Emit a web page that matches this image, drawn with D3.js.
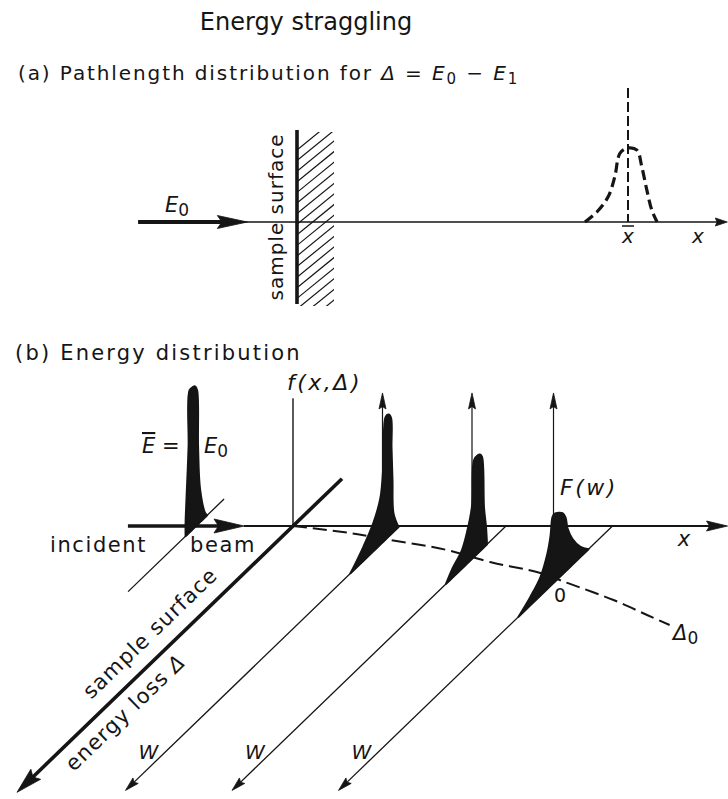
<!DOCTYPE html>
<html><head><meta charset="utf-8">
<script src="https://cdn.jsdelivr.net/npm/d3@7"></script>
<style>
body{margin:0;background:#fff}
svg{display:block}
text{font-family:"DejaVu Sans",sans-serif;fill:#151515}
</style>
</head><body>
<svg id="c" width="728" height="799"></svg>
<script>
// ================= DATA =================
const titleText = "Energy straggling";
const panelALabel = "(a) Pathlength distribution for ";
const panelBLabel = "(b) Energy distribution";

// Panel (a): pathlength distribution, x in units of mean pathlength x̄
const pathX       = [0.870, 0.906, 0.940, 0.960, 0.976, 1.000, 1.027, 1.042, 1.057, 1.072, 1.088];
const pathDensity = [0,     0.135, 0.34,  0.61,  0.93,  1.00,  0.97,  0.74,  0.43,  0.16,  0];

// Panel (b): energy distributions F(w) at depths x (units of peak spacing)
const peakX = [-0.91, 1, 2, 3];
const peak0W = [-0.11, -0.09, -0.04, -0.02, -0.01, 0.01, 0.03, 0.065, 0.075, 0.095, 0.105, 0.105];
const peak0F = [0,     0.03,  0.23,  0.54,  0.95,  0.99, 1.00, 1.00,  0.61,  0.27,  0.09,  0];
const peak1W = [0.01, 0.06, 0.07, 0.08, 0.085, 0.11, 0.14, 0.16, 0.19, 0.26, 0.36, 0.49];
const peak1F = [0,    0.13, 0.37, 0.61, 0.82,  0.86, 0.86, 0.55, 0.33, 0.20, 0.10, 0];
const peak2W = [0.19, 0.20, 0.22, 0.24, 0.26, 0.28, 0.32, 0.34, 0.39, 0.44, 0.54, 0.60];
const peak2F = [0,    0.13, 0.28, 0.65, 0.68, 0.69, 0.68, 0.37, 0.22, 0.13, 0.06, 0];
const peak3W = [0.24, 0.32, 0.40, 0.45, 0.47, 0.50, 0.54, 0.58, 0.60, 0.62, 0.65, 0.72, 0.82, 0.94];
const peak3F = [0,    0.07, 0.18, 0.29, 0.38, 0.43, 0.46, 0.48, 0.47, 0.35, 0.25, 0.13, 0.06, 0];

// F(w) axes: located at the mean energy loss for each depth
const arrowX = [1, 2, 3];
const arrowW = [0.17, 0.34, 0.59];
const arrowTopF = 0.937;
const fAxisTopF = 0.90;

// mean energy loss Δ0(x)
const deltaX = [0, 0.60, 0.99, 1.68, 2.20, 2.78, 3.13, 3.73, 4.19, 4.50];
const deltaW = [0, 0.0725, 0.135, 0.249, 0.373, 0.487, 0.59, 0.767, 0.922, 1.026];

const wLabels = ["W", "W", "W"];

// ================= DRAWING =================
const svg = d3.select("#c");
const ink = "#151515";

function arrowHead(g, x1, y1, x2, y2, len, half) {
  const a = Math.atan2(y2 - y1, x2 - x1);
  const bx = x2 - len * Math.cos(a), by = y2 - len * Math.sin(a);
  const px = -Math.sin(a) * half, py = Math.cos(a) * half;
  g.append("path")
    .attr("d", d3.line()([[x2, y2], [bx + px, by + py], [bx + len * 0.15 * Math.cos(a), by + len * 0.15 * Math.sin(a)], [bx - px, by - py]]) + "Z")
    .attr("fill", ink).attr("stroke", ink).attr("stroke-width", 0.8).attr("stroke-linejoin", "round");
  return [bx + len * 0.3 * Math.cos(a), by + len * 0.3 * Math.sin(a)];
}
function arrow(g, x1, y1, x2, y2, sw, len, half) {
  const b = arrowHead(g, x1, y1, x2, y2, len, half);
  g.append("line").attr("x1", x1).attr("y1", y1).attr("x2", b[0]).attr("y2", b[1])
    .attr("stroke", ink).attr("stroke-width", sw);
}
function line(g, x1, y1, x2, y2, sw) {
  return g.append("line").attr("x1", x1).attr("y1", y1).attr("x2", x2).attr("y2", y2)
    .attr("stroke", ink).attr("stroke-width", sw);
}

// ---- titles ----
svg.append("text").attr("x", 306).attr("y", 30).attr("text-anchor", "middle")
  .attr("font-size", 24).text(titleText);

const la = svg.append("text").attr("x", 18).attr("y", 80).attr("font-size", 20).attr("letter-spacing", 1.9);
la.append("tspan").text(panelALabel);
la.append("tspan").attr("font-style", "italic").text("Δ");
la.append("tspan").text(" = ");
la.append("tspan").attr("font-style", "italic").text("E");
la.append("tspan").attr("font-size", 15).attr("dy", 4).text("0");
la.append("tspan").attr("dy", -4).text(" − ");
la.append("tspan").attr("font-style", "italic").text("E");
la.append("tspan").attr("font-size", 15).attr("dy", 4).text("1");

// ================= PANEL (a) =================
const gA = svg.append("g");
const xA = d3.scaleLinear().domain([0, 1]).range([297, 628]);
const yA = d3.scaleLinear().domain([0, 1]).range([222, 148]);
const yA0 = yA(0);

// hatching behind the surface
gA.append("clipPath").attr("id", "hclip").append("rect")
  .attr("x", xA(0)).attr("y", 132).attr("width", 37).attr("height", 174);
const hatch = gA.append("g").attr("clip-path", "url(#hclip)");
for (let y = 150; y < 345; y += 10.6) {
  line(hatch, xA(0), y, xA(0) + 38, y - 31, 1.2);
}
// axis
arrow(gA, xA(-0.48), yA0, xA(1.3), yA0, 1.6, 12, 4);
// thick incident beam
arrow(gA, xA(-0.48), yA0, xA(-0.15), yA0, 4.2, 30, 6.5);
// sample surface
line(gA, xA(0), 130, xA(0), 304, 3.6);

// mean pathlength dashed vertical
line(gA, xA(1), 88, xA(1), yA0, 2).attr("stroke-dasharray", "10,4");
// distribution (dashed)
gA.append("path")
  .datum(pathX.map((x, i) => [x, pathDensity[i]]))
  .attr("d", d3.line().x(d => xA(d[0])).y(d => yA(d[1])).curve(d3.curveCatmullRom.alpha(0.5)))
  .attr("fill", "none").attr("stroke", ink).attr("stroke-width", 3.2)
  .attr("stroke-dasharray", "10,5");

// labels (a)
const e0 = gA.append("text").attr("x", 165).attr("y", 212).attr("font-size", 21);
e0.append("tspan").attr("font-style", "italic").text("E");
e0.append("tspan").attr("font-size", 17).attr("dy", 4).text("0");

gA.append("text").attr("transform", `translate(${xA(0) - 14},217) rotate(-90)`)
  .attr("text-anchor", "middle").attr("font-size", 20).attr("letter-spacing", 1)
  .text("sample  surface");

gA.append("text").attr("x", xA(1)).attr("y", 243).attr("text-anchor", "middle")
  .attr("font-size", 20).attr("font-style", "italic").text("x");
line(gA, xA(1) - 6, 226, xA(1) + 6, 226, 1.5);
gA.append("text").attr("x", 698).attr("y", 243).attr("text-anchor", "middle")
  .attr("font-size", 20).attr("font-style", "italic").text("x");

// ================= PANEL (b) =================
svg.append("text").attr("x", 15).attr("y", 360).attr("font-size", 21).attr("letter-spacing", 2.2).text(panelBLabel);

const gB = svg.append("g");
const xB = d3.scaleLinear().domain([0, 1]).range([293, 399.5]);
const wS = d3.scaleLinear().domain([0, 1]).range([0, 100]);
const fS = d3.scaleLinear().domain([0, 1]).range([0, 142]);
const yB0 = 526, slope = 0.965;
const proj = (x, w, f) => [xB(x) - wS(w), yB0 + wS(w) * slope - fS(f)];

// axis
arrow(gB, xB(-0.46), yB0, xB(4.08), yB0, 1.8, 21, 5);
// incident beam thick arrow
arrow(gB, xB(-1.55), yB0, xB(-0.46), yB0, 3.6, 30, 7);

// f(x,Δ) axis at surface
{
  const a = proj(0, 0, 0), b = proj(0, 0, fAxisTopF);
  line(gB, a[0], a[1], b[0], b[1], 1.4);
}

// dashed mean energy-loss curve
gB.append("path")
  .datum(deltaX.map((x, i) => proj(x, deltaW[i], 0)))
  .attr("d", d3.line().curve(d3.curveCatmullRom.alpha(0.5)))
  .attr("fill", "none").attr("stroke", ink).attr("stroke-width", 2)
  .attr("stroke-dasharray", "14,6");

// W axes (energy loss at each depth)
{
  const a = proj(peakX[0], -0.28, 0), b = proj(peakX[0], 0.68, 0);
  line(gB, a[0], a[1], b[0], b[1], 1.3);
}
peakX.slice(1).forEach((x, i) => {
  const a = proj(x, 0, 0), b = proj(x, 2.74, 0);
  arrow(gB, a[0], a[1], b[0], b[1], 1.3, 14, 3.8);
  gB.append("text").attr("x", b[0] + 23).attr("y", b[1] - 31).attr("text-anchor", "middle")
    .attr("font-size", 20).attr("font-style", "italic").text(wLabels[i]);
});

// sample surface thick diagonal
{
  const a = proj(0, -0.49, 0), b = proj(0, 2.76, 0);
  arrow(gB, a[0], a[1], b[0], b[1], 3.6, 26, 7);
}

// F(w) arrows
arrowX.forEach((x, i) => {
  const a = proj(x, arrowW[i], 0);
  const top = proj(x, 0, arrowTopF)[1];
  arrow(gB, a[0], a[1], a[0], top, 1.2, 16, 3.5);
});

// peaks
const peakData = [[peak0W, peak0F], [peak1W, peak1F], [peak2W, peak2F], [peak3W, peak3F]];
const area = d3.area()
  .x0(d => proj(d.x, d.w, 0)[0]).y0(d => proj(d.x, d.w, 0)[1])
  .x1(d => proj(d.x, d.w, d.f)[0]).y1(d => proj(d.x, d.w, d.f)[1])
  .curve(d3.curveCatmullRom.alpha(0.5));
peakData.forEach(([ws, fs], k) => {
  gB.append("path")
    .datum(ws.map((w, i) => ({x: peakX[k], w: w, f: fs[i]})))
    .attr("d", area)
    .attr("fill", ink).attr("stroke", ink).attr("stroke-width", 2).attr("stroke-linejoin", "round");
});

// labels (b)
gB.append("text").attr("x", 287).attr("y", 390).attr("font-size", 22)
  .attr("font-style", "italic").attr("letter-spacing", 2.5).text("f(x,Δ)");

const eb = gB.append("text").attr("x", 142).attr("y", 453).attr("font-size", 21);
eb.append("tspan").attr("font-style", "italic").attr("text-decoration", "overline").text("E");
eb.append("tspan").text(" =");
const e0b = gB.append("text").attr("x", 204).attr("y", 453).attr("font-size", 21);
e0b.append("tspan").attr("font-style", "italic").text("E");
e0b.append("tspan").attr("font-size", 17).attr("dy", 4).text("0");

gB.append("text").attr("x", 50).attr("y", 552).attr("font-size", 21).attr("letter-spacing", 1.6).text("incident");
gB.append("text").attr("x", 190).attr("y", 552).attr("font-size", 21).attr("letter-spacing", 1.6).text("beam");
gB.append("text").attr("x", 684).attr("y", 546).attr("text-anchor", "middle")
  .attr("font-size", 21).attr("font-style", "italic").text("x");
gB.append("text").attr("x", 560).attr("y", 495).attr("font-size", 22).attr("font-style", "italic")
  .attr("letter-spacing", 2.5).text("F(w)");
gB.append("text").attr("x", 560).attr("y", 602).attr("text-anchor", "middle").attr("font-size", 19).text("0");
const d0 = gB.append("text").attr("x", 673).attr("y", 640).attr("font-size", 21);
d0.append("tspan").attr("font-style", "italic").text("Δ");
d0.append("tspan").attr("font-size", 17).attr("dy", 4).text("0");

// rotated labels along the surface diagonal
const ang = -Math.atan(slope) * 180 / Math.PI;
{
  const p = proj(0, 1.275, 0);
  gB.append("text").attr("transform", `translate(${p[0]},${p[1]}) rotate(${ang})`)
    .attr("x", 0).attr("y", -15).attr("text-anchor", "middle").attr("font-size", 21)
    .attr("letter-spacing", 1.2).text("sample surface");
  const q = proj(0, 1.80, 0);
  const t = gB.append("text").attr("transform", `translate(${q[0]},${q[1]}) rotate(${ang})`)
    .attr("x", 0).attr("y", 25).attr("text-anchor", "middle").attr("font-size", 21).attr("letter-spacing", 1.2);
  t.append("tspan").text("energy loss ");
  t.append("tspan").attr("font-style", "italic").text("Δ");
}
</script>
</body></html>
